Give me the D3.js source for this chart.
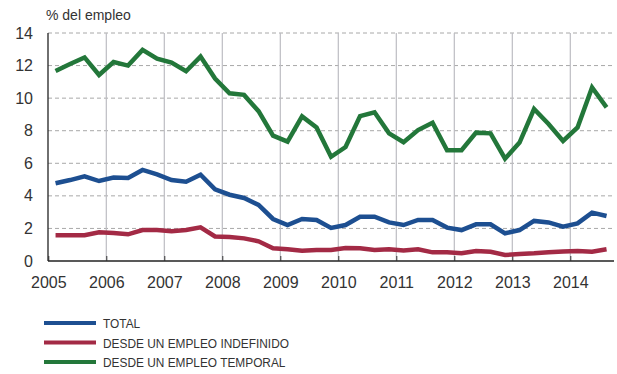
<!DOCTYPE html>
<html><head><meta charset="utf-8">
<script src="https://cdn.jsdelivr.net/npm/d3@7"></script>
<style>body{margin:0;background:#fff}svg{display:block}</style>
</head><body>
<svg id="c" width="617" height="374"></svg>
<script>
const years = [2005,2006,2007,2008,2009,2010,2011,2012,2013,2014];
const yTicks = [0,2,4,6,8,10,12,14];
// quarterly, 2005Q1 .. 2014Q3
const total = [4.77,4.97,5.2,4.91,5.12,5.1,5.59,5.32,4.97,4.87,5.3,4.4,4.07,3.87,3.44,2.58,2.21,2.58,2.52,2.03,2.21,2.72,2.72,2.37,2.21,2.52,2.52,2.05,1.9,2.25,2.25,1.7,1.9,2.46,2.37,2.11,2.31,2.97,2.76];
const indefinido = [1.58,1.58,1.58,1.76,1.72,1.64,1.9,1.9,1.82,1.9,2.07,1.51,1.47,1.39,1.21,0.78,0.72,0.63,0.68,0.68,0.8,0.78,0.68,0.72,0.65,0.72,0.53,0.53,0.47,0.61,0.57,0.37,0.43,0.47,0.53,0.59,0.61,0.57,0.72];
const temporal = [11.67,12.1,12.5,11.42,12.22,12.0,12.96,12.42,12.18,11.65,12.55,11.2,10.3,10.2,9.2,7.7,7.33,8.88,8.2,6.4,7.0,8.9,9.13,7.84,7.29,8.04,8.49,6.8,6.8,7.88,7.84,6.28,7.27,9.33,8.41,7.37,8.2,10.66,9.43];
const seriesNames = ["TOTAL","DESDE UN EMPLEO INDEFINIDO","DESDE UN EMPLEO TEMPORAL"];
const colors = ["#1d4f91","#a32a45","#23773a"];

const svg = d3.select("#c");
const x = d3.scaleLinear().domain([2005, 2015]).range([48.3, 628.3]);
const y = d3.scaleLinear().domain([0, 14]).range([261, 33]);
const xEnd = 614;
const font = "'Liberation Sans', Arial, Helvetica, sans-serif";

// horizontal dashed gridlines
svg.append("g").selectAll("line").data(yTicks.filter(d=>d>0)).join("line")
  .attr("x1", 48).attr("x2", xEnd).attr("y1", d=>y(d)).attr("y2", d=>y(d))
  .attr("stroke", "#a8a8a8").attr("stroke-width", 1).attr("stroke-dasharray", "4,3");
// vertical gridlines
svg.append("g").selectAll("line").data(years.slice(1)).join("line")
  .attr("x1", d=>x(d)).attr("x2", d=>x(d)).attr("y1", 33).attr("y2", 261)
  .attr("stroke", "#bdbdc2").attr("stroke-width", 1.2);

// x axis
const xAxis = d3.axisBottom(x).tickValues(years).tickFormat(d3.format("d")).tickSize(-5).tickPadding(16);
const gx = svg.append("g").attr("transform", "translate(0,261)").call(xAxis);
gx.select(".domain").attr("d", `M48,0H${xEnd}`).attr("stroke", "#222").attr("stroke-width", 1.3);
gx.selectAll(".tick line").attr("stroke", "#333");
gx.selectAll("text").attr("font-family", font).attr("font-size", 16).attr("fill", "#333");

// y axis
const yAxis = d3.axisLeft(y).tickValues(yTicks).tickSize(0).tickPadding(15);
const gy = svg.append("g").attr("transform", "translate(48,0)").call(yAxis);
gy.select(".domain").attr("d", "M0,33V261").attr("stroke", "#222").attr("stroke-width", 1.3);
gy.selectAll("text").attr("font-family", font).attr("font-size", 16).attr("fill", "#333");

svg.append("text").attr("x", 46).attr("y", 20).attr("font-family", font)
  .attr("font-size", 14).attr("fill", "#333").text("% del empleo");

const data = [total, indefinido, temporal];
const line = d3.line().x((d,i)=>x(2005 + (i+0.5)/4)).y(d=>y(d));
[1,0,2].forEach(k=>{
  svg.append("path").datum(data[k]).attr("d", line).attr("fill","none")
    .attr("stroke", colors[k]).attr("stroke-width", 4.5).attr("stroke-linejoin","miter");
});

// legend
const lg = svg.append("g");
seriesNames.forEach((n,i)=>{
  const yy = 323 + i*19.5;
  lg.append("line").attr("x1",44).attr("x2",96).attr("y1",yy).attr("y2",yy)
    .attr("stroke", colors[i]).attr("stroke-width", 4);
  lg.append("text").attr("transform", `translate(103,${yy+5}) scale(0.88,1)`)
    .attr("font-family", font)
    .attr("font-size",13.5).attr("fill","#333").text(n);
});
</script>
</body></html>
